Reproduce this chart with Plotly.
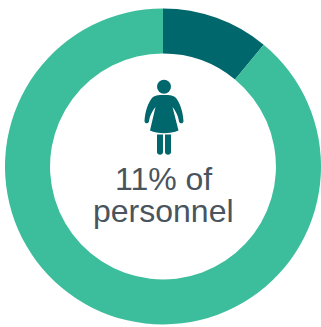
import plotly.graph_objects as go

W, H = 321, 327
segments = ["Women", "Other personnel"]
shares = [11, 89]
colors = ["#00676c", "#3cbd9c"]
label_lines = ["11% of", "personnel"]
ICON = "#00676c"
TEXT = "#4a545d"


def px(x):
    return x / W


def py(y):
    return 1 - y / H


def path(points):
    # Each entry is an SVG command followed by pixel pairs, converted to paper space
    out = []
    for cmd, *pairs in points:
        coords = " ".join(f"{px(pairs[i]):.5f},{py(pairs[i + 1]):.5f}" for i in range(0, len(pairs), 2))
        out.append(f"{cmd}{coords}")
    return " ".join(out) + " Z"


fig = go.Figure(
    go.Pie(
        labels=segments,
        values=shares,
        hole=0.715,
        sort=False,
        direction="clockwise",
        rotation=0,
        marker=dict(colors=colors, line=dict(width=0)),
        textinfo="none",
        showlegend=False,
        domain=dict(x=[px(5), px(321)], y=[py(325), py(8)]),
    )
)

body = path([
    ("M", 164, 95),
    ("C", 170, 95, 174, 95.5, 176, 98),
    ("C", 180, 103, 183, 112, 183.5, 121),
    ("C", 183.5, 124, 179.5, 124, 179, 121.5),
    ("C", 178.5, 116, 175, 110, 172.5, 107),
    ("L", 178.5, 130.5),
    ("C", 170, 134, 158, 134, 150, 130.5),
    ("L", 155.5, 107),
    ("C", 153, 110, 149.5, 116, 149, 121.5),
    ("C", 148.5, 124, 144.5, 124, 144.5, 121),
    ("C", 145, 112, 148, 103, 152, 98),
    ("C", 154, 95.5, 158, 95, 164, 95),
])
left_leg = path([
    ("M", 157, 134.5), ("L", 163, 134.5), ("L", 163, 152),
    ("C", 163, 155.5, 157, 155.5, 157, 152),
])
right_leg = path([
    ("M", 165, 134.5), ("L", 171, 134.5), ("L", 171, 152),
    ("C", 171, 155.5, 165, 155.5, 165, 152),
])

shapes = [
    dict(type="path", xref="paper", yref="paper", path=p, fillcolor=ICON, line=dict(width=0))
    for p in (body, left_leg, right_leg)
]
shapes.append(dict(
    type="circle", xref="paper", yref="paper",
    x0=px(157), x1=px(171), y0=py(93.7), y1=py(79.7),
    fillcolor=ICON, line=dict(width=0),
))

annotations = [
    dict(
        text=line, x=px(163.5), y=py(center), xref="paper", yref="paper",
        xanchor="center", yanchor="middle", showarrow=False,
        font=dict(family="Liberation Sans", size=32, color=TEXT),
    )
    for line, center in zip(label_lines, (179, 211))
]

fig.update_layout(
    width=W, height=H,
    margin=dict(l=0, r=0, t=0, b=0),
    paper_bgcolor="white",
    shapes=shapes,
    annotations=annotations,
)
fig.write_html("out.html", config={"displayModeBar": False})
